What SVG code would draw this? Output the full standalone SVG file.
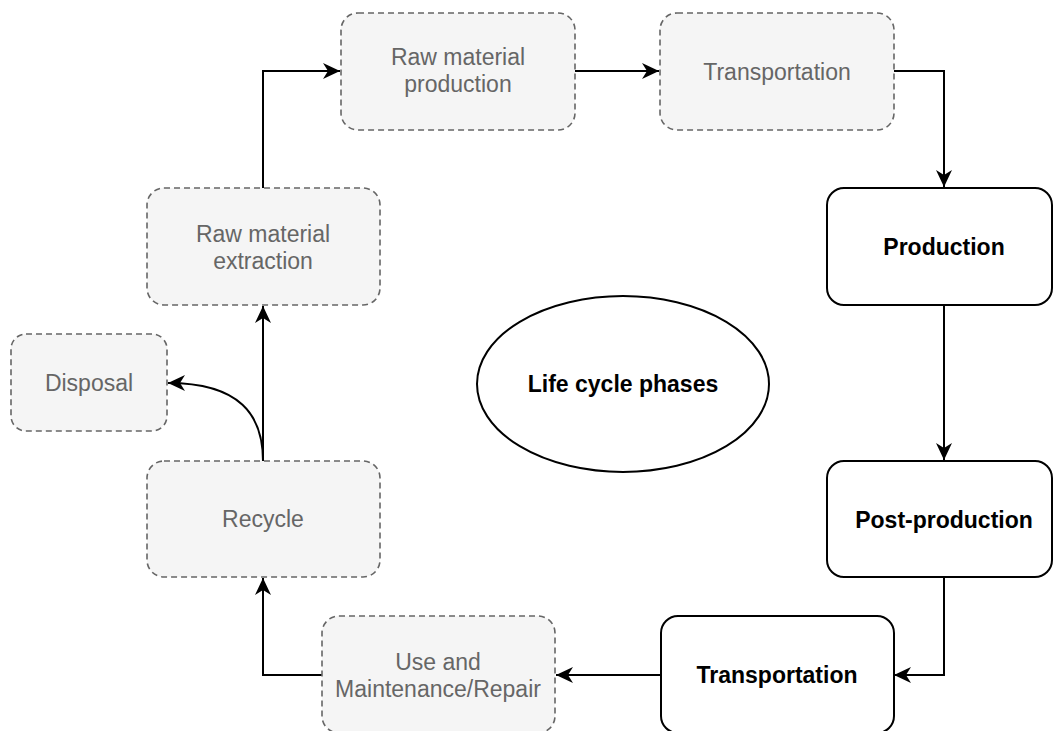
<svg xmlns="http://www.w3.org/2000/svg" width="1053" height="731" viewBox="0 0 1053 731">
<style>
.g{fill:#f5f5f5;stroke:#666666;stroke-width:1.6;stroke-dasharray:6 4}
.b{fill:#ffffff;stroke:#000000;stroke-width:2}
.gt{font-family:"Liberation Sans",Arial,Helvetica,sans-serif;font-size:23px;fill:#666666;text-anchor:middle}
.bt{font-family:"Liberation Sans",Arial,Helvetica,sans-serif;font-size:23px;font-weight:bold;fill:#000000;text-anchor:middle}
.c{fill:none;stroke:#000000;stroke-width:2;marker-end:url(#arr)}
</style>
<defs>
<marker id="arr" markerUnits="userSpaceOnUse" markerWidth="18" markerHeight="16" viewBox="0 0 18 16" refX="17" refY="8" orient="auto">
<path d="M0,0 L17,8 L0,16 L5,8 z" fill="#000000"/>
</marker>
</defs>
<g id="connectors">
<path class="c" d="M263 188 V71 H340"/>
<path class="c" d="M575 71 H659"/>
<path class="c" d="M894 71 H944 V187"/>
<path class="c" d="M944 305 V460"/>
<path class="c" d="M944 577 V675 H894"/>
<path class="c" d="M661 675 H556"/>
<path class="c" d="M322 675 H263 V578"/>
<path class="c" d="M263 461 V306"/>
<path class="c" d="M263 461 C263 415 240 383 168 383"/>
</g>
<g id="raw-material-production">
<rect class="g" x="341" y="13" width="234" height="117" rx="17"/>
<text class="gt" x="458" y="65">Raw material</text>
<text class="gt" x="458" y="92">production</text>
</g>
<g id="transportation-1">
<rect class="g" x="660" y="13" width="234" height="117" rx="17"/>
<text class="gt" x="777" y="80">Transportation</text>
</g>
<g id="production">
<rect class="b" x="827" y="188" width="225" height="117" rx="17"/>
<text class="bt" x="944" y="255">Production</text>
</g>
<g id="post-production">
<rect class="b" x="827" y="461" width="225" height="116" rx="17"/>
<text class="bt" x="944" y="528">Post-production</text>
</g>
<g id="transportation-2">
<rect class="b" x="661" y="616" width="233" height="117" rx="17"/>
<text class="bt" x="777" y="683">Transportation</text>
</g>
<g id="use-maintenance">
<rect class="g" x="322" y="616" width="233" height="117" rx="17"/>
<text class="gt" x="438" y="670">Use and</text>
<text class="gt" x="438" y="697">Maintenance/Repair</text>
</g>
<g id="recycle">
<rect class="g" x="147" y="461" width="233" height="116" rx="17"/>
<text class="gt" x="263" y="527">Recycle</text>
</g>
<g id="disposal">
<rect class="g" x="11" y="334" width="156" height="97" rx="15"/>
<text class="gt" x="89" y="391">Disposal</text>
</g>
<g id="raw-material-extraction">
<rect class="g" x="147" y="188" width="233" height="117" rx="17"/>
<text class="gt" x="263" y="242">Raw material</text>
<text class="gt" x="263" y="269">extraction</text>
</g>
<g id="life-cycle-phases">
<ellipse cx="623" cy="384" rx="146" ry="88" fill="#ffffff" stroke="#000000" stroke-width="2"/>
<text class="bt" x="623" y="392">Life cycle phases</text>
</g>
</svg>
